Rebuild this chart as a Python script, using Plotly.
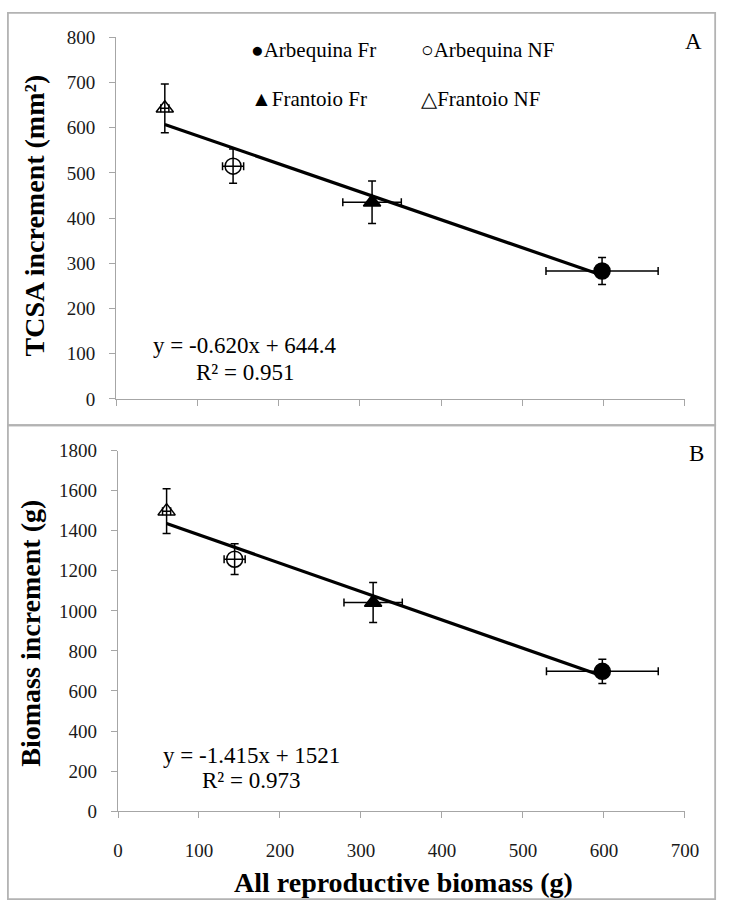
import plotly.graph_objects as go

W, H = 735, 914
FONT = "Liberation Serif, Times New Roman, Times, DejaVu Serif, serif"

groups = ["Arbequina Fr", "Arbequina NF", "Frantoio Fr", "Frantoio NF"]
symbols = ["circle", "circle-open", "triangle-up", "triangle-up-open"]
glyphs = ["●", "○", "▲", "△"]

repro_x = [598, 144, 315, 60]
repro_xerr = [69, 13, 36, 5]

tcsa_y = [283, 515, 435, 643]
tcsa_yerr = [30, 38, 47, 54]

biomass_y = [698, 1258, 1042, 1498]
biomass_yerr = [61, 77, 100, 112]

fitA = {"slope": -0.620, "intercept": 644.4, "r2": 0.951}
fitB = {"slope": -1.415, "intercept": 1521, "r2": 0.973}
fit_x = [60, 598]

xticks = [0, 100, 200, 300, 400, 500, 600, 700]
yticksA = [0, 100, 200, 300, 400, 500, 600, 700, 800]
yticksB = [0, 200, 400, 600, 800, 1000, 1200, 1400, 1600, 1800]


def px(x):
    return x / W


def py(y):
    return 1 - y / H


fig = go.Figure()

for panel, (yvals, yerr, fit, xa, ya) in enumerate([
    (tcsa_y, tcsa_yerr, fitA, "x", "y"),
    (biomass_y, biomass_yerr, fitB, "x2", "y2"),
]):
    fig.add_trace(go.Scatter(
        x=fit_x, y=[fit["slope"] * v + fit["intercept"] for v in fit_x],
        mode="lines", line=dict(color="black", width=3.2), xaxis=xa, yaxis=ya,
        showlegend=False, hoverinfo="skip"))
    for i, g in enumerate(groups):
        fig.add_trace(go.Scatter(
            x=[repro_x[i]], y=[yvals[i]], mode="markers", name=g,
            xaxis=xa, yaxis=ya, showlegend=False,
            marker=dict(symbol=symbols[i], size=16 if "circle" in symbols[i] else 15,
                        color="black", line=dict(color="black", width=1.5)),
            error_x=dict(type="data", array=[repro_xerr[i]], color="black",
                         thickness=1.5, width=4),
            error_y=dict(type="data", array=[yerr[i]], color="black",
                         thickness=1.5, width=4),
        ))

axis_common = dict(
    showgrid=False, zeroline=False, showline=True, linecolor="#a6a6a6",
    linewidth=1.2, ticks="outside", tickcolor="#a6a6a6", ticklen=6,
    tickfont=dict(family=FONT, size=19, color="#1a1a1a"),
)

fig.update_layout(
    width=W, height=H, margin=dict(l=0, r=0, t=0, b=0),
    paper_bgcolor="white", plot_bgcolor="white", showlegend=False,
    font=dict(family=FONT),
    xaxis=dict(axis_common, domain=[px(114), px(698)], range=[0, 700],
               tickvals=xticks, showticklabels=False, anchor="y"),
    yaxis=dict(axis_common, domain=[py(398), py(28)], range=[0, 800],
               tickvals=yticksA, ticklabelstandoff=10, anchor="x"),
    xaxis2=dict(axis_common, domain=[px(116), px(698)], range=[0, 700],
                tickvals=xticks, ticklabelstandoff=16, anchor="y2"),
    yaxis2=dict(axis_common, domain=[py(820), py(451)], range=[0, 1800],
                tickvals=yticksB, ticklabelstandoff=10, anchor="x2"),
)

# panel frames (sharing the middle edge)
fig.add_shape(type="rect", xref="paper", yref="paper", x0=px(3), x1=px(729),
              y0=py(425), y1=py(3), line=dict(color="#b3b3b3", width=1.8))
fig.add_shape(type="rect", xref="paper", yref="paper", x0=px(3), x1=px(729),
              y0=py(910), y1=py(425), line=dict(color="#b3b3b3", width=1.8))

ann = []


def text(x, y, s, size, bold=False, angle=0, xanchor="center"):
    ann.append(dict(x=px(x), y=py(y), xref="paper", yref="paper", text=s,
                    showarrow=False, textangle=angle, xanchor=xanchor,
                    yanchor="middle",
                    font=dict(family=FONT, size=size, color="black",
                              weight="bold" if bold else "normal")))


# legend
leg_pos = [(250, 41), (425, 41), (250, 91), (425, 91)]
for (lx, ly), gl, g in zip(leg_pos, glyphs, groups):
    text(lx, ly, gl + g, 21, xanchor="left")

text(707, 32, "A", 23)
text(710, 454, "B", 23)

text(246, 343, "y = -0.620x + 644.4", 23)
text(246, 371, "R² = 0.951", 23)
text(253, 763, "y = -1.415x + 1521", 23)
text(253, 789, "R² = 0.973", 23)

text(30, 210, "TCSA increment (mm²)", 28, bold=True, angle=-90)
text(26, 638, "Biomass increment (g)", 28, bold=True, angle=-90)
text(409, 893, "All reproductive biomass (g)", 28, bold=True)

fig.update_layout(annotations=ann)
fig.write_html(
    "out.html",
    config={"displayModeBar": False},
    post_script="document.body.style.margin='0';document.body.style.padding='0';"
                "document.documentElement.style.overflow='hidden';",
)
